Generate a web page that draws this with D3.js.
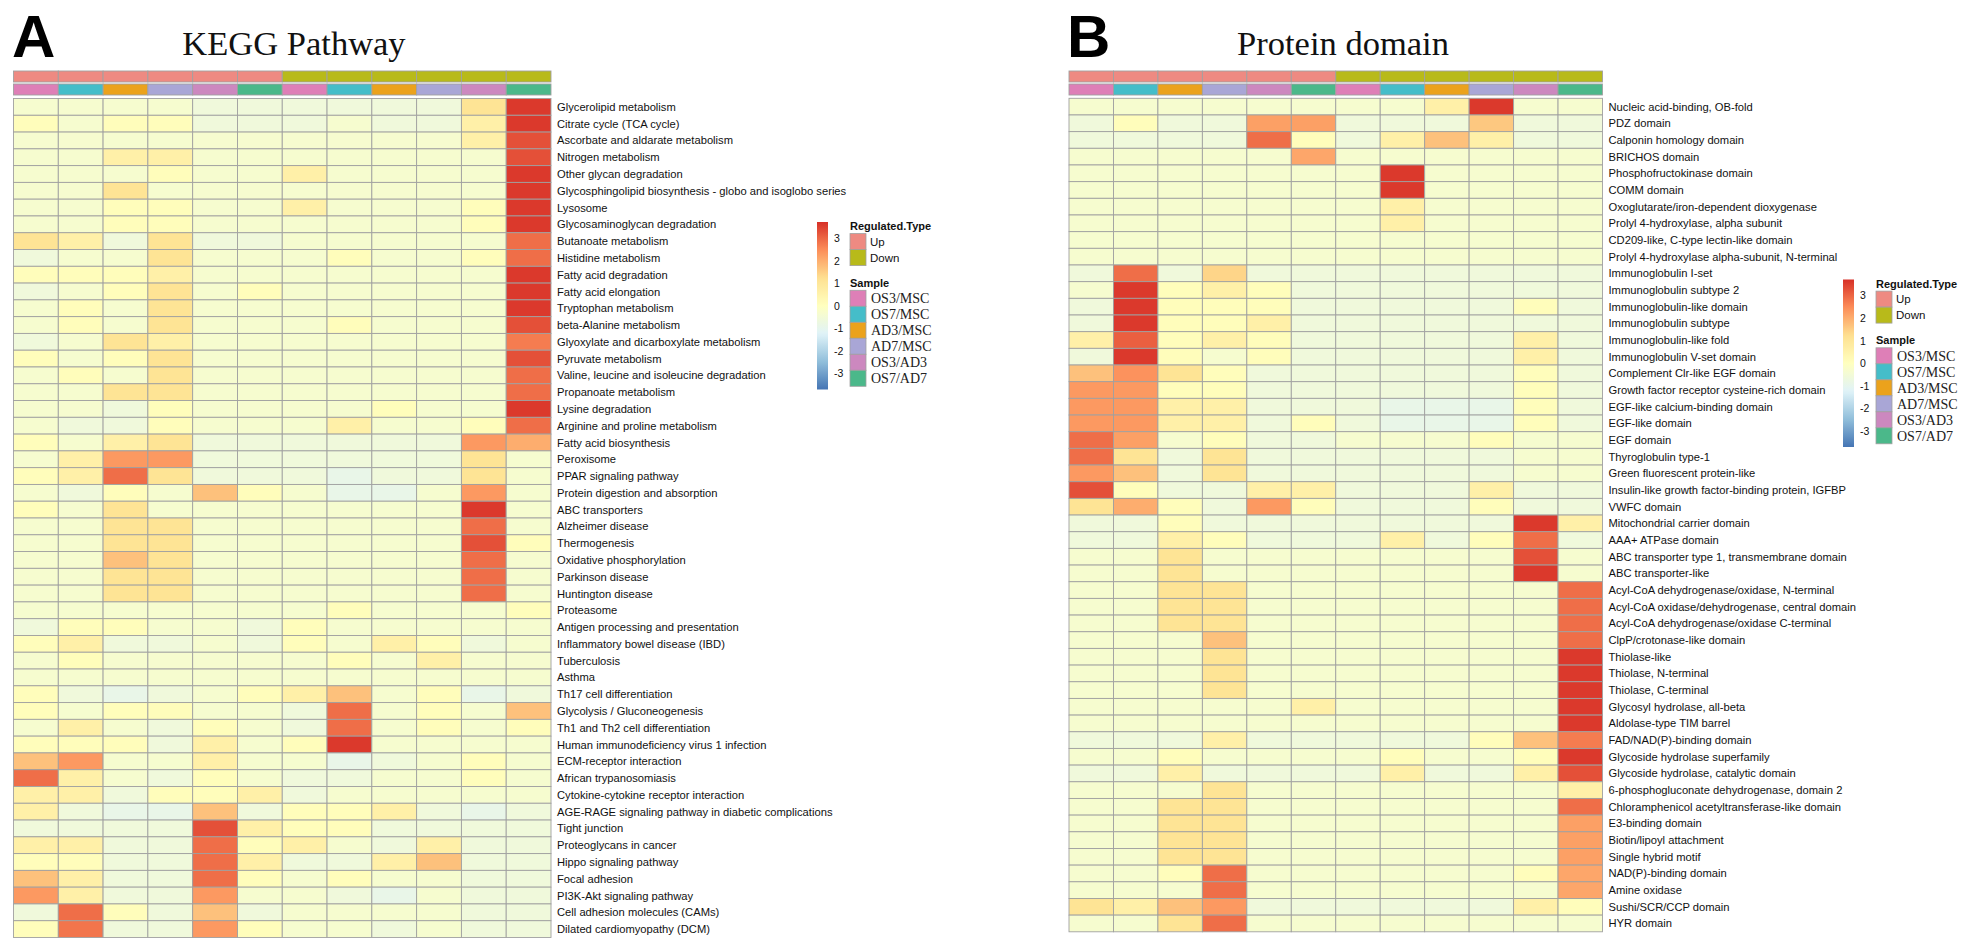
<!DOCTYPE html>
<html>
<head>
<meta charset="utf-8">
<script src="https://cdn.jsdelivr.net/npm/d3@7/dist/d3.min.js"></script>
<style>
  html, body { margin: 0; padding: 0; background: #ffffff; }
  svg { display: block; }
</style>
</head>
<body>
<div id="chart"></div>
<script>
// ---------------- DATA ----------------
const sampleLabels = ["OS3/MSC", "OS7/MSC", "AD3/MSC", "AD7/MSC", "OS3/AD3", "OS7/AD7"];
const sampleColors = ["#DE7FB7", "#45BDC9", "#EBA21C", "#A9A6D6", "#CC88BF", "#4BB88A"];
const regulatedTypes = ["Up", "Down"];
const regulatedColors = ["#EE8A82", "#B8BA1A"];
// 12 columns: 6 Up comparisons followed by 6 Down comparisons
const columnType = ["Up","Up","Up","Up","Up","Up","Down","Down","Down","Down","Down","Down"];
const columnSample = ["OS3/MSC","OS7/MSC","AD3/MSC","AD7/MSC","OS3/AD3","OS7/AD7","OS3/MSC","OS7/MSC","AD3/MSC","AD7/MSC","OS3/AD3","OS7/AD7"];
const legendTicks = [3, 2, 1, 0, -1, -2, -3];
const colorRange = [-3.72, 3.72];
const paletteColors = ["#4575B4", "#91BFDB", "#E0F3F8", "#FFFFBF", "#FEE090", "#FC8D59", "#D73027"];

const keggRows = [
  "Glycerolipid metabolism", "Citrate cycle (TCA cycle)", "Ascorbate and aldarate metabolism", "Nitrogen metabolism",
  "Other glycan degradation", "Glycosphingolipid biosynthesis - globo and isoglobo series", "Lysosome",
  "Glycosaminoglycan degradation", "Butanoate metabolism", "Histidine metabolism", "Fatty acid degradation",
  "Fatty acid elongation", "Tryptophan metabolism", "beta-Alanine metabolism", "Glyoxylate and dicarboxylate metabolism",
  "Pyruvate metabolism", "Valine, leucine and isoleucine degradation", "Propanoate metabolism", "Lysine degradation",
  "Arginine and proline metabolism", "Fatty acid biosynthesis", "Peroxisome", "PPAR signaling pathway",
  "Protein digestion and absorption", "ABC transporters", "Alzheimer disease", "Thermogenesis",
  "Oxidative phosphorylation", "Parkinson disease", "Huntington disease", "Proteasome",
  "Antigen processing and presentation", "Inflammatory bowel disease (IBD)", "Tuberculosis", "Asthma",
  "Th17 cell differentiation", "Glycolysis / Gluconeogenesis", "Th1 and Th2 cell differentiation",
  "Human immunodeficiency virus 1 infection", "ECM-receptor interaction", "African trypanosomiasis",
  "Cytokine-cytokine receptor interaction", "AGE-RAGE signaling pathway in diabetic complications", "Tight junction",
  "Proteoglycans in cancer", "Hippo signaling pathway", "Focal adhesion", "PI3K-Akt signaling pathway",
  "Cell adhesion molecules (CAMs)", "Dilated cardiomyopathy (DCM)"
];
const keggValues = [
  [-.35,-.35,-.35,-.35,-.6,-.6,-.6,-.6,-.6,-.6,1.1,3.6],
  [.1,-.35,.1,.1,-.6,-.6,-.6,-.35,-.6,-.6,.6,3.6],
  [-.35,-.35,-.35,-.35,-.35,-.35,-.35,-.35,-.35,-.35,.6,3.3],
  [-.35,-.35,.6,.6,-.35,-.35,-.35,-.35,-.35,-.35,-.35,3.3],
  [-.35,-.35,-.35,.1,-.35,-.35,.6,-.35,-.35,-.35,-.35,3.6],
  [-.35,-.35,1.1,-.35,-.35,-.35,-.35,-.35,-.35,-.35,-.35,3.6],
  [-.35,-.35,.1,.1,-.35,-.35,.6,-.35,-.35,-.35,.1,3.6],
  [-.35,-.35,.1,.1,-.35,-.35,-.35,-.35,-.35,-.35,.1,3.6],
  [1.1,.6,-.6,1.1,-.6,-.6,-.35,-.35,-.35,-.35,-.35,2.9],
  [-.6,-.35,-.35,1.1,-.35,-.35,-.35,.1,-.35,-.35,.1,2.9],
  [.1,.1,.1,.6,-.35,-.35,-.35,-.35,-.35,-.35,-.35,3.6],
  [-.6,-.35,.1,1.1,-.35,.1,-.35,-.35,-.35,-.35,-.35,3.6],
  [-.35,.1,-.35,1.1,-.35,-.35,-.35,-.35,-.35,-.35,-.35,3.6],
  [-.35,.1,-.35,1.1,-.35,-.35,-.35,.1,-.35,-.35,-.35,3.3],
  [-.6,-.35,1.1,.6,-.35,-.35,-.35,-.35,-.35,-.35,-.35,2.7],
  [.1,-.35,.1,1.1,-.35,-.35,-.35,-.35,-.35,-.35,-.35,3.3],
  [-.35,.1,-.35,1.1,-.35,-.35,-.35,-.35,-.35,-.35,-.35,2.9],
  [-.35,-.35,1.1,1.1,-.35,-.35,-.35,-.35,-.35,-.35,-.35,2.9],
  [-.35,-.35,-.6,.1,-.35,-.35,-.35,-.35,.1,-.35,-.35,3.6],
  [-.35,-.6,-.6,.1,-.35,-.35,-.35,.6,-.35,-.35,.1,2.9],
  [.1,-.35,.6,1.1,-.6,-.6,-.6,-.6,-.6,-.6,2.3,2.0],
  [-.35,.6,2.3,2.3,-.6,-.6,-.6,-.6,-.6,-.6,1.1,-.35],
  [.1,.6,2.9,1.1,-.6,-.6,-.6,-.9,-.6,-.6,1.1,-.35],
  [-.35,-.6,.1,-.35,1.7,.1,-.35,-.9,-.9,-.35,2.3,-.35],
  [.1,-.35,1.1,-.35,-.35,-.35,-.35,-.35,-.35,-.35,3.6,-.35],
  [-.35,-.35,1.1,1.1,-.35,-.35,-.35,-.35,-.35,-.35,2.9,-.35],
  [-.35,-.35,1.1,1.1,-.35,-.35,-.35,-.35,-.35,-.35,3.3,.1],
  [-.35,-.35,1.7,1.1,-.35,-.35,-.35,-.35,-.35,-.35,2.9,-.35],
  [-.35,-.35,1.1,1.1,-.35,-.35,-.35,-.35,-.35,-.35,2.9,-.35],
  [-.35,-.35,1.1,1.1,-.35,-.35,-.35,-.35,-.35,-.35,2.9,-.35],
  [-.35,-.35,-.35,-.35,-.35,-.35,-.35,.1,-.35,-.35,-.35,.1],
  [-.6,.1,.1,-.35,-.35,-.6,.1,-.35,-.35,-.35,-.35,-.35],
  [.1,.6,-.6,-.6,-.35,-.6,.1,-.35,.6,.1,-.6,-.35],
  [-.35,.1,-.35,-.35,-.35,-.35,-.35,.1,-.35,.6,-.35,-.35],
  [-.35,-.35,-.35,-.35,-.35,-.35,-.35,-.35,-.35,-.35,-.35,-.35],
  [.1,-.6,-.9,-.6,-.35,.1,.6,1.7,-.35,.1,-.9,-.6],
  [.1,-.35,.1,.1,-.35,-.35,-.6,2.9,-.35,.1,-.35,1.7],
  [-.35,.6,-.35,-.6,.1,-.35,-.6,2.9,-.35,.1,-.35,.1],
  [.1,.1,.1,-.6,.6,-.35,.1,3.6,-.35,-.35,-.35,-.35],
  [1.7,2.3,-.35,-.35,.6,-.35,-.35,-.9,-.6,-.35,.1,-.35],
  [2.9,.6,-.35,-.6,.1,-.35,-.6,-.6,-.35,-.35,.1,-.35],
  [.6,.6,-.6,.1,.1,.6,-.6,-.35,-.35,-.35,-.35,-.35],
  [.6,-.6,-.9,-.9,1.7,-.6,.1,.1,.6,-.6,-.9,-.6],
  [-.6,-.6,-.6,-.6,3.3,.6,.1,.1,-.6,-.6,-.6,-.6],
  [.6,.6,-.6,-.6,2.9,.1,.6,-.35,-.6,.6,-.6,-.6],
  [.1,.1,-.6,-.6,2.9,.6,-.6,-.6,.6,1.7,-.6,-.6],
  [1.7,.6,-.6,-.6,2.9,.1,-.35,.1,-.35,-.35,-.6,-.6],
  [2.3,.6,-.6,-.6,2.3,-.35,-.35,-.6,-.9,-.35,-.6,-.6],
  [-.6,2.9,.1,-.6,1.7,-.6,-.35,-.35,-.35,-.35,-.6,-.6],
  [.1,2.8,-.6,-.6,2.3,.1,-.35,-.35,-.6,-.35,-.6,-.6]
];

const domainRows = [
  "Nucleic acid-binding, OB-fold", "PDZ domain", "Calponin homology domain", "BRICHOS domain",
  "Phosphofructokinase domain", "COMM domain", "Oxoglutarate/iron-dependent dioxygenase",
  "Prolyl 4-hydroxylase, alpha subunit", "CD209-like, C-type lectin-like domain",
  "Prolyl 4-hydroxylase alpha-subunit, N-terminal", "Immunoglobulin I-set", "Immunoglobulin subtype 2",
  "Immunoglobulin-like domain", "Immunoglobulin subtype", "Immunoglobulin-like fold", "Immunoglobulin V-set domain",
  "Complement Clr-like EGF domain", "Growth factor receptor cysteine-rich domain", "EGF-like calcium-binding domain",
  "EGF-like domain", "EGF domain", "Thyroglobulin type-1", "Green fluorescent protein-like",
  "Insulin-like growth factor-binding protein, IGFBP", "VWFC domain", "Mitochondrial carrier domain",
  "AAA+ ATPase domain", "ABC transporter type 1, transmembrane domain", "ABC transporter-like",
  "Acyl-CoA dehydrogenase/oxidase, N-terminal", "Acyl-CoA oxidase/dehydrogenase, central domain",
  "Acyl-CoA dehydrogenase/oxidase C-terminal", "ClpP/crotonase-like domain", "Thiolase-like", "Thiolase, N-terminal",
  "Thiolase, C-terminal", "Glycosyl hydrolase, all-beta", "Aldolase-type TIM barrel", "FAD/NAD(P)-binding domain",
  "Glycoside hydrolase superfamily", "Glycoside hydrolase, catalytic domain", "6-phosphogluconate dehydrogenase, domain 2",
  "Chloramphenicol acetyltransferase-like domain", "E3-binding domain", "Biotin/lipoyl attachment", "Single hybrid motif",
  "NAD(P)-binding domain", "Amine oxidase", "Sushi/SCR/CCP domain", "HYR domain"
];
const domainValues = [
  [-.35,-.35,-.35,-.35,-.35,-.35,-.35,-.35,.6,3.6,-.35,-.35],
  [-.6,.1,-.6,-.6,2.2,2.2,-.6,-.6,-.6,1.6,-.6,-.6],
  [-.6,-.6,-.6,-.6,2.9,.1,-.6,.6,1.7,.6,-.6,-.6],
  [-.35,-.35,-.35,-.35,-.35,2.1,-.35,-.35,-.35,-.35,-.35,-.35],
  [-.35,-.35,-.35,-.35,-.35,-.35,-.35,3.6,-.35,-.35,-.35,-.35],
  [-.35,-.35,-.35,-.35,-.35,-.35,-.35,3.6,-.35,-.35,-.35,-.35],
  [-.35,-.35,-.35,-.35,-.35,-.35,-.35,.6,-.35,-.35,-.35,-.35],
  [-.35,-.35,-.35,-.35,-.35,-.35,-.35,.6,-.35,-.35,-.35,-.35],
  [-.35,-.35,-.35,-.35,-.35,-.35,-.35,-.35,-.35,-.35,-.35,-.35],
  [-.35,-.35,-.35,-.35,-.35,-.35,-.35,-.35,-.35,-.35,-.35,-.35],
  [-.6,2.9,-.6,1.4,-.6,-.6,-.6,-.6,-.6,-.6,-.6,-.6],
  [-.35,3.6,.1,.6,.1,-.6,-.6,-.6,-.6,-.6,-.6,-.6],
  [-.6,3.6,.1,.1,.1,-.6,-.6,-.6,-.6,-.6,.1,-.6],
  [-.6,3.6,.1,.1,.6,-.6,-.6,-.6,-.6,-.6,-.6,-.6],
  [.6,3.1,.1,.6,.1,-.6,-.6,-.6,-.6,-.6,.6,-.6],
  [-.6,3.6,.1,-.35,.1,-.6,-.6,-.6,-.6,-.6,.6,-.6],
  [1.7,2.4,1.1,.1,-.6,-.6,-.6,-.6,-.6,-.6,.1,-.6],
  [2.3,2.3,.1,.1,-.6,-.6,-.6,-.6,-.6,-.6,.1,-.6],
  [2.3,2.3,.6,.6,-.6,-.6,-.6,-.9,-.9,-.9,.1,-.6],
  [2.3,2.3,.6,.6,-.6,.1,-.6,-.9,-.9,-.9,.1,-.6],
  [2.9,2.2,-.35,.1,-.6,-.6,-.35,-.35,-.35,.1,-.35,-.35],
  [2.9,1.1,-.6,1.1,-.6,-.6,-.6,-.6,-.6,-.6,-.35,-.35],
  [2.3,1.7,-.6,1.1,-.6,-.6,-.6,-.6,-.6,-.6,-.35,-.35],
  [3.3,.1,-.6,-.6,.6,.6,-.6,-.6,-.6,.6,-.6,-.6],
  [1.1,2.0,.1,-.6,2.3,.1,-.6,-.6,-.6,.1,-.6,-.6],
  [-.6,-.6,.1,-.6,-.6,-.6,-.6,-.6,-.6,-.6,3.6,.6],
  [-.6,-.6,.6,.1,-.6,-.6,-.6,.6,-.6,.1,2.9,-.6],
  [-.35,-.35,1.1,-.35,-.35,-.35,-.35,-.35,-.35,-.35,3.3,-.35],
  [-.35,-.35,1.1,-.35,-.35,-.35,-.35,-.35,-.35,-.35,3.6,-.35],
  [-.35,-.35,1.1,1.1,-.35,-.35,-.35,-.35,-.35,-.35,-.35,2.9],
  [-.35,-.35,1.1,1.1,-.35,-.35,-.35,-.35,-.35,-.35,-.35,2.9],
  [-.35,-.35,1.1,1.1,-.35,-.35,-.35,-.35,-.35,-.35,-.35,2.9],
  [-.35,-.35,-.35,1.7,-.35,-.35,-.35,-.35,-.35,-.35,-.35,2.9],
  [-.35,-.35,-.35,1.1,-.35,-.35,-.35,-.35,-.35,-.35,-.35,3.6],
  [-.35,-.35,-.35,1.1,-.35,-.35,-.35,-.35,-.35,-.35,-.35,3.6],
  [-.35,-.35,-.35,1.1,-.35,-.35,-.35,-.35,-.35,-.35,-.35,3.6],
  [-.35,-.35,-.35,-.35,-.35,.6,-.35,-.35,-.35,-.35,-.35,3.6],
  [-.35,-.35,-.35,-.35,-.35,-.35,-.35,-.35,-.35,-.35,-.35,3.6],
  [-.6,-.6,-.6,.6,-.6,-.6,-.6,-.6,-.6,.1,1.7,2.7],
  [-.35,-.35,.1,-.35,-.35,-.35,-.35,.1,-.35,-.35,.1,3.6],
  [-.6,-.6,.6,-.6,-.6,-.6,-.6,.6,-.6,-.6,.6,3.3],
  [-.35,-.35,-.35,1.1,-.35,-.35,-.35,-.35,-.35,-.35,-.35,.6],
  [-.35,-.35,1.1,1.1,-.35,-.35,-.35,-.35,-.35,-.35,-.35,2.9],
  [-.35,-.35,1.1,1.1,-.35,-.35,-.35,-.35,-.35,-.35,-.35,2.2],
  [-.35,-.35,1.1,1.1,-.35,-.35,-.35,-.35,-.35,-.35,-.35,2.2],
  [-.35,-.35,1.1,1.1,-.35,-.35,-.35,-.35,-.35,-.35,-.35,2.2],
  [-.35,-.35,.1,2.9,-.35,-.35,-.35,-.35,-.35,-.35,.1,2.1],
  [-.35,-.35,-.35,2.9,-.35,-.35,-.35,-.35,-.35,-.35,-.35,2.1],
  [1.1,.6,1.7,2.3,-.6,-.6,-.6,-.6,-.6,-.6,.6,.1],
  [-.35,-.35,1.1,2.9,-.35,-.35,-.35,-.35,-.35,-.35,-.35,-.35]
];

// ---------------- DRAWING ----------------
const W = 1965, H = 946;
const svg = d3.select("#chart").append("svg")
  .attr("width", W).attr("height", H)
  .attr("viewBox", `0 0 ${W} ${H}`);
svg.append("rect").attr("width", W).attr("height", H).attr("fill", "#ffffff");

const SANS = "'Liberation Sans', Arial, Helvetica, sans-serif";
const SERIF = "'Liberation Serif', 'Times New Roman', Times, serif";
const GRID = "#a0a0a0";

// piecewise-linear RdYlBu (reversed) ramp, like colorRampPalette
const stops = d3.range(paletteColors.length).map(i =>
  colorRange[0] + i * (colorRange[1] - colorRange[0]) / (paletteColors.length - 1));
const color = d3.scaleLinear().domain(stops).range(paletteColors)
  .interpolate(d3.interpolateRgb).clamp(true);

const typeColor = d3.scaleOrdinal().domain(regulatedTypes).range(regulatedColors);
const sampleColor = d3.scaleOrdinal().domain(sampleLabels).range(sampleColors);

// gradient for colour bar
const defs = svg.append("defs");
const grad = defs.append("linearGradient").attr("id", "cbar")
  .attr("x1", 0).attr("y1", 1).attr("x2", 0).attr("y2", 0);
d3.range(0, 1.0001, 0.02).forEach(t => {
  grad.append("stop").attr("offset", t)
    .attr("stop-color", color(colorRange[0] + t * (colorRange[1] - colorRange[0])));
});

function drawPanel(cfg) {
  const g = svg.append("g");
  const cols = d3.range(12);
  const x = d3.scaleBand().domain(cols).range([cfg.x0, cfg.x1]);
  const y = d3.scaleBand().domain(d3.range(cfg.rows.length)).range([cfg.top, cfg.top + cfg.rowH * cfg.rows.length]);

  // panel letter and title
  g.append("text").attr("x", cfg.letterX).attr("y", 57)
    .attr("font-family", SANS).attr("font-weight", "bold").attr("font-size", 60)
    .attr("fill", "#000").text(cfg.letter);
  g.append("text").attr("x", cfg.titleX).attr("y", 55).attr("text-anchor", "middle")
    .attr("font-family", SERIF).attr("font-size", 34.5).attr("fill", "#111").text(cfg.title);

  // annotation bars
  g.selectAll("rect.ann1").data(cols).enter().append("rect")
    .attr("x", d => x(d)).attr("y", 71).attr("width", x.bandwidth()).attr("height", 11)
    .attr("fill", d => typeColor(columnType[d])).attr("stroke", GRID).attr("stroke-width", 0.9);
  g.selectAll("rect.ann2").data(cols).enter().append("rect")
    .attr("x", d => x(d)).attr("y", 84).attr("width", x.bandwidth()).attr("height", 11)
    .attr("fill", d => sampleColor(columnSample[d])).attr("stroke", GRID).attr("stroke-width", 0.9);

  // cells
  const cells = [];
  cfg.values.forEach((row, i) => row.forEach((v, j) => cells.push({ i, j, v })));
  g.selectAll("rect.cell").data(cells).enter().append("rect")
    .attr("x", d => x(d.j)).attr("y", d => y(d.i))
    .attr("width", x.bandwidth()).attr("height", y.bandwidth())
    .attr("fill", d => color(d.v)).attr("stroke", GRID).attr("stroke-width", 0.9);

  // row labels
  g.selectAll("text.rowlab").data(cfg.rows).enter().append("text")
    .attr("x", cfg.x1 + 6).attr("y", (d, i) => y(i) + y.bandwidth() / 2)
    .attr("dy", "0.36em")
    .attr("font-family", SANS).attr("font-size", 11.2).attr("fill", "#111")
    .text(d => d);

  // legend
  const lx = cfg.legendX, ly = cfg.legendY, ch = 167.5;
  const ly2 = d3.scaleLinear().domain(colorRange).range([ly + ch, ly]);
  g.append("rect").attr("x", lx).attr("y", ly).attr("width", 11).attr("height", ch)
    .attr("fill", "url(#cbar)");
  g.selectAll("text.tick").data(legendTicks).enter().append("text")
    .attr("x", lx + 17).attr("y", d => ly2(d)).attr("dy", "0.36em")
    .attr("font-family", SANS).attr("font-size", 10.5).attr("fill", "#111")
    .text(d => d);

  g.append("text").attr("x", lx + 33).attr("y", ly + 8)
    .attr("font-family", SANS).attr("font-weight", "bold").attr("font-size", 11).attr("fill", "#111")
    .text("Regulated.Type");
  regulatedTypes.forEach((t, k) => {
    g.append("rect").attr("x", lx + 33).attr("y", ly + 11.6 + k * 16).attr("width", 16).attr("height", 16)
      .attr("fill", typeColor(t)).attr("stroke", GRID).attr("stroke-width", 0.8);
    g.append("text").attr("x", lx + 53).attr("y", ly + 11.6 + k * 16 + 8).attr("dy", "0.36em")
      .attr("font-family", SANS).attr("font-size", 11.5).attr("fill", "#111").text(t);
  });
  g.append("text").attr("x", lx + 33).attr("y", ly + 64.5)
    .attr("font-family", SANS).attr("font-weight", "bold").attr("font-size", 11).attr("fill", "#111")
    .text("Sample");
  sampleLabels.forEach((s, k) => {
    g.append("rect").attr("x", lx + 33).attr("y", ly + 68.3 + k * 16).attr("width", 16).attr("height", 16)
      .attr("fill", sampleColor(s)).attr("stroke", GRID).attr("stroke-width", 0.8);
    g.append("text").attr("x", lx + 54).attr("y", ly + 68.3 + k * 16 + 8).attr("dy", "0.34em")
      .attr("font-family", SERIF).attr("font-size", 14).attr("fill", "#222").text(s);
  });
}

drawPanel({
  letter: "A", letterX: 12, title: "KEGG Pathway", titleX: 294,
  x0: 13.5, x1: 551, top: 98.5, rowH: 16.78,
  rows: keggRows, values: keggValues,
  legendX: 817, legendY: 222
});
drawPanel({
  letter: "B", letterX: 1067, title: "Protein domain", titleX: 1343,
  x0: 1069, x1: 1602.5, top: 98.3, rowH: 16.67,
  rows: domainRows, values: domainValues,
  legendX: 1843, legendY: 279.5
});
</script>
</body>
</html>
